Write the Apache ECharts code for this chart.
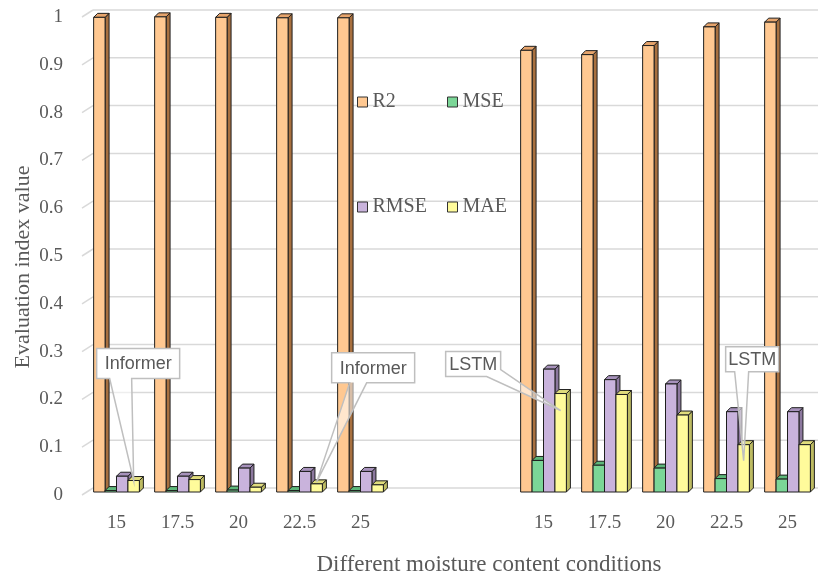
<!DOCTYPE html>
<html><head><meta charset="utf-8">
<script src="https://cdn.jsdelivr.net/npm/echarts@6/dist/echarts.min.js"></script>
<style>html,body{margin:0;padding:0;background:#fff}#c{width:818px;height:581px}</style>
</head><body><div id="c"></div>
<script>
// ---------- data ----------
const categories = ['15','17.5','20','22.5','25','','','15','17.5','20','22.5','25'];
const seriesNames = ['R2','MSE','RMSE','MAE'];
const informerR2   = [0.993, 0.994, 0.993, 0.992, 0.992];
const informerMSE  = [0.003, 0.003, 0.004, 0.003, 0.003];
const informerRMSE = [0.033, 0.033, 0.050, 0.043, 0.043];
const informerMAE  = [0.024, 0.026, 0.010, 0.017, 0.015];
const lstmR2   = [0.924, 0.915, 0.934, 0.973, 0.983];
const lstmMSE  = [0.066, 0.056, 0.050, 0.028, 0.027];
const lstmRMSE = [0.257, 0.235, 0.226, 0.168, 0.168];
const lstmMAE  = [0.206, 0.204, 0.161, 0.099, 0.099];
const yTicks = [0, 0.1, 0.2, 0.3, 0.4, 0.5, 0.6, 0.7, 0.8, 0.9, 1];
const calloutText = ['Informer', 'Informer', 'LSTM', 'LSTM'];
const calloutCategory = [0, 3, 7, 10];

// ---------- assembly ----------
function combine(a, b) { return a.concat([null, null], b); }
const values = {
  R2: combine(informerR2, lstmR2),
  MSE: combine(informerMSE, lstmMSE),
  RMSE: combine(informerRMSE, lstmRMSE),
  MAE: combine(informerMAE, lstmMAE)
};

// ---------- styles ----------
const palette = {
  R2:   { front: '#FFC891', side: '#A8703F', top: '#E6A46C' },
  MSE:  { front: '#7BD697', side: '#4A9560', top: '#5DB77A' },
  RMSE: { front: '#C9B3DC', side: '#8C789E', top: '#A792BC' },
  MAE:  { front: '#FFFB9B', side: '#BDBB62', top: '#E0DC7C' }
};
const textGrey = '#595959';
const gridGrey = '#d9d9d9';
const serif = '"Liberation Serif", "Times New Roman", serif';
const DEPTH = 4;
const BAR_FRAC = 0.1875;

function barRenderer(k) {
  const c = palette[seriesNames[k]];
  return function (params, api) {
    const ci = api.value(0), v = api.value(1);
    const p0 = api.coord([ci, 0]);
    const p1 = api.coord([ci, v]);
    const band = api.size([1, 0])[0];
    const w = band * BAR_FRAC, d = DEPTH;
    const x = p0[0] - 2 * w + k * w;
    const yb = p0[1] + d, yt = p1[1] + d;
    const stroke = '#1e1e1e';
    return {
      type: 'group',
      children: [
        { type: 'polygon', shape: { points: [[x + w, yt], [x + w + d, yt - d], [x + w + d, yb - d], [x + w, yb]] },
          style: { fill: c.side, stroke: stroke, lineWidth: 1 } },
        { type: 'polygon', shape: { points: [[x, yt], [x + d, yt - d], [x + w + d, yt - d], [x + w, yt]] },
          style: { fill: c.top, stroke: stroke, lineWidth: 1 } },
        { type: 'rect', shape: { x: x, y: yt, width: w, height: yb - yt },
          style: { fill: c.front, stroke: stroke, lineWidth: 1 } }
      ]
    };
  };
}

function wallRenderer(params, api) {
  const cs = params.coordSys;
  const p = api.coord([0, api.value(1)]);
  const y = p[1];
  return {
    type: 'group',
    children: [
      { type: 'line', shape: { x1: cs.x - 4, y1: y + 7, x2: cs.x + 7, y2: y }, style: { stroke: gridGrey, lineWidth: 1.5 } },
      { type: 'line', shape: { x1: cs.x + 7, y1: y, x2: cs.x + cs.width, y2: y }, style: { stroke: gridGrey, lineWidth: 1.5 } }
    ]
  };
}

// callout layout relative to the tip (pixels)
const calloutLayout = [
  { tipDy: 0,  dx: -37, dy: -132, w: 83, h: 30, kind: 'bottom', b1: 13, b2: 35 },
  { tipDy: -2, dx: 15,  dy: -129, w: 83, h: 30, kind: 'bottom', b1: 18, b2: 35 },
  { tipDy: 17, dx: -115, dy: -59, w: 55, h: 25, kind: 'corner', b1: 14, b2: 7 },
  { tipDy: 16, dx: -18, dy: -114, w: 53, h: 25, kind: 'bottom', b1: 9, b2: 23 }
];

function calloutRenderer(params, api) {
  const ci = api.value(0), v = api.value(1), j = api.value(2);
  const L0 = calloutLayout[j];
  const p0 = api.coord([ci, 0]);
  const p1 = api.coord([ci, v]);
  const band = api.size([1, 0])[0];
  const w = band * BAR_FRAC;
  const tx = p0[0] + 1.5 * w;
  const ty = p1[1] + DEPTH + L0.tipDy;
  const L = tx + L0.dx, T = ty + L0.dy, R = L + L0.w, B = T + L0.h;
  let outline, tail;
  if (L0.kind === 'bottom') {
    outline = [[L, T], [R, T], [R, B], [L + L0.b2, B], [tx, ty], [L + L0.b1, B], [L, B]];
    tail = [[L + L0.b1, B], [tx, ty], [L + L0.b2, B]];
  } else {
    outline = [[L, T], [R, T], [R, B - L0.b2], [tx, ty], [R - L0.b1, B], [L, B]];
    tail = [[R, B - L0.b2], [tx, ty], [R - L0.b1, B], [R, B]];
  }
  return {
    type: 'group',
    children: [
      { type: 'rect', shape: { x: L, y: T, width: L0.w, height: L0.h }, style: { fill: '#ffffff' } },
      { type: 'polygon', shape: { points: tail }, style: { fill: 'rgba(255,255,255,0.55)' } },
      { type: 'polygon', shape: { points: outline }, style: { fill: 'none', stroke: '#bfbfbf', lineWidth: 1.5 } },
      { type: 'text', style: { text: calloutText[j], x: (L + R) / 2, y: (T + B) / 2 + 1, align: 'center', verticalAlign: 'middle',
          fontSize: 18, fontFamily: '"Liberation Sans", Arial, sans-serif', fill: textGrey } }
    ]
  };
}

const barSeries = seriesNames.map(function (name, k) {
  return {
    name: name,
    type: 'custom',
    coordinateSystem: 'cartesian2d',
    renderItem: barRenderer(k),
    encode: { x: 0, y: 1 },
    itemStyle: { color: palette[name].front },
    z: 3,
    data: values[name].map(function (v, i) { return [i, v]; }).filter(function (d) { return d[1] != null; })
  };
});

function legendAt(name, left, top) {
  return {
    data: [name], left: left, top: top, padding: 0, icon: 'rect',
    itemWidth: 10, itemHeight: 10,
    itemStyle: { borderColor: '#333333', borderWidth: 1 },
    textStyle: { fontFamily: serif, fontSize: 20, color: textGrey },
    selectedMode: false
  };
}

const option = {
  animation: false,
  backgroundColor: '#ffffff',
  grid: { left: 86, top: 10, width: 736, height: 480 },
  legend: [
    legendAt('R2', 357, 92), legendAt('MSE', 447, 92),
    legendAt('RMSE', 357, 197), legendAt('MAE', 447, 197)
  ],
  xAxis: {
    type: 'category',
    data: categories,
    axisLine: { show: false }, axisTick: { show: false },
    axisLabel: { interval: 0, margin: 26, fontFamily: serif, fontSize: 19, color: textGrey },
    name: 'Different moisture content conditions',
    nameLocation: 'middle', nameGap: 65, nameMoveOverlap: false,
    nameTextStyle: { fontFamily: serif, fontSize: 23, color: textGrey, padding: [0, 0, 0, 74] }
  },
  yAxis: {
    type: 'value', min: 0, max: 1, interval: 0.1,
    axisLine: { show: false }, axisTick: { show: false }, splitLine: { show: false },
    axisLabel: { margin: 23, fontFamily: serif, fontSize: 19, color: textGrey, verticalAlign: 'top', lineHeight: 14 },
    name: 'Evaluation index value',
    nameLocation: 'middle', nameGap: 52, nameMoveOverlap: false,
    nameTextStyle: { fontFamily: serif, fontSize: 22, color: textGrey, padding: [0, 36, 0, 0] }
  },
  series: [
    {
      name: 'wall', type: 'custom', coordinateSystem: 'cartesian2d', silent: true, z: 1,
      renderItem: wallRenderer, encode: { x: 0, y: 1 },
      data: yTicks.map(function (t) { return [0, t]; })
    }
  ].concat(barSeries, [
    {
      name: 'callouts', type: 'custom', coordinateSystem: 'cartesian2d', silent: true, z: 10,
      renderItem: calloutRenderer, encode: { x: 0, y: 1 },
      data: calloutCategory.map(function (c, j) { return [c, values.MAE[c], j]; })
    }
  ])
};

const chart = echarts.init(document.getElementById('c'), null, { renderer: 'canvas' });
chart.setOption(option);
</script>
</body></html>
